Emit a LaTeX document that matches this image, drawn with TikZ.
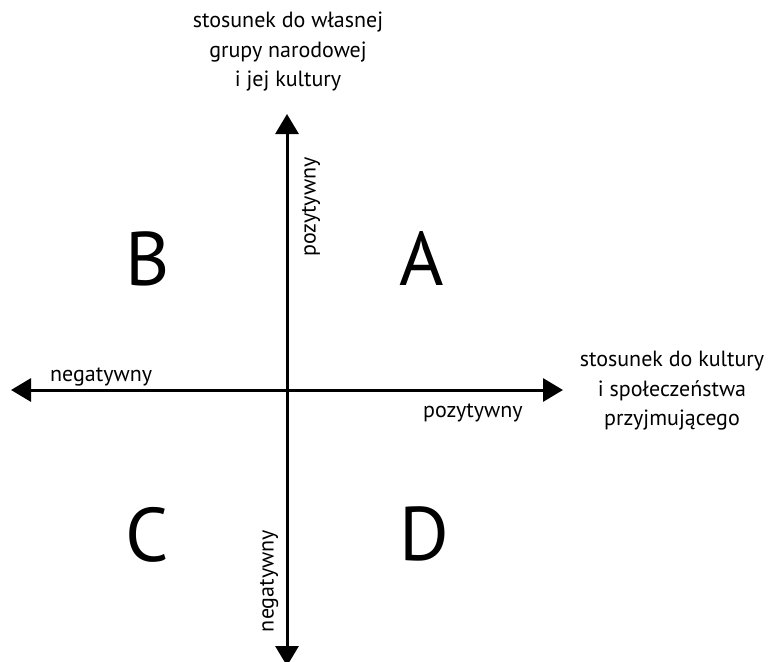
\documentclass[tikz,border=0pt]{standalone}
\usepackage{fontspec}
\setmainfont{PT Sans}
\usetikzlibrary{arrows.meta}
\begin{document}
\begin{tikzpicture}[x=1pt,y=-1pt,
  axis/.style={line width=3pt,-{Triangle[length=20pt,width=23pt]}},
  quad/.style={font=\fontsize{76}{76}\selectfont,anchor=base,inner sep=0pt},
  lbl/.style={font=\fontsize{22}{26}\selectfont,inner sep=0pt},
  ttl/.style={font=\fontsize{22}{29.5}\selectfont,align=center,inner sep=0pt,anchor=north}]
\useasboundingbox (0,0) rectangle (773,661);
\coordinate (o) at (287,390);
\coordinate (left) at (11,390);
\coordinate (right) at (563,390);
\coordinate (top) at (287,114);
\coordinate (bot) at (287,666);
\draw[axis] (o) -- (left);
\draw[axis] (o) -- (right);
\draw[axis] (o) -- (top);
\draw[axis] (o) -- (bot);
\node[quad] (A) at (422,285) {A};
\node[quad] (B) at (148,285) {B};
\node[quad] (C) at (147,561) {C};
\node[quad] (D) at (424,560) {D};
\node[lbl,anchor=base west] (nl) at (50,381) {negatywny};
\node[lbl,anchor=base west] (pr) at (423,417) {pozytywny};
\node[lbl,rotate=90] (pt) at (311,207) {pozytywny};
\node[lbl,rotate=90] (nb) at (269,581) {negatywny};
\node[ttl] (tt) at (288,12) {stosunek do własnej\\grupy narodowej\\i jej kultury};
\node[ttl] (rt) at (672,351) {stosunek do kultury\\i społeczeństwa\\przyjmującego};
\end{tikzpicture}
\end{document}
